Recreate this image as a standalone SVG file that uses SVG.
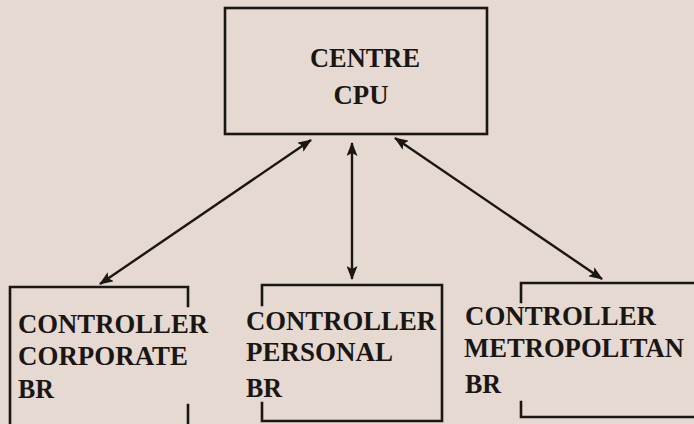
<svg xmlns="http://www.w3.org/2000/svg" width="694" height="424" viewBox="0 0 694 424">
<style>
.box{fill:none;stroke:#1a1614;stroke-width:2.6;stroke-linecap:square}
.lbl{font-family:"Liberation Serif","Times New Roman",serif;font-weight:bold;font-size:28px;fill:#1a1614}
.conn{stroke:#1a1614;stroke-width:2.4;fill:none;marker-start:url(#ah);marker-end:url(#ah)}
</style>
<defs>
<marker id="ah" viewBox="0 0 14 11" refX="13" refY="5.5" markerWidth="14" markerHeight="11" markerUnits="userSpaceOnUse" orient="auto-start-reverse">
<path d="M0,0 L14,5.5 L0,11 L3,5.5 Z" fill="#1a1614"/>
</marker>
</defs>
<rect width="694" height="424" fill="#e5d9d1"/>
<g id="cpu">
<rect class="box" x="225" y="8" width="262" height="126"/>
<text class="lbl" x="365" y="67" text-anchor="middle" textLength="110" lengthAdjust="spacingAndGlyphs">CENTRE</text>
<text class="lbl" x="361" y="104" text-anchor="middle" textLength="55" lengthAdjust="spacingAndGlyphs">CPU</text>
</g>
<g id="corporate">
<path class="box" d="M10,424 V287 H188 V306 M188,405 V424"/>
<text class="lbl" x="18" y="333" textLength="190" lengthAdjust="spacingAndGlyphs">CONTROLLER</text>
<text class="lbl" x="18" y="365" textLength="170" lengthAdjust="spacingAndGlyphs">CORPORATE</text>
<text class="lbl" x="18" y="398" textLength="36" lengthAdjust="spacingAndGlyphs">BR</text>
</g>
<g id="personal">
<path class="box" d="M262,305 V285 H442 V421 H262 V403"/>
<text class="lbl" x="246" y="330" textLength="190" lengthAdjust="spacingAndGlyphs">CONTROLLER</text>
<text class="lbl" x="246" y="361" textLength="147" lengthAdjust="spacingAndGlyphs">PERSONAL</text>
<text class="lbl" x="246" y="397" textLength="36" lengthAdjust="spacingAndGlyphs">BR</text>
</g>
<g id="metropolitan">
<path class="box" d="M521,302 V283 H696 M696,417 H521 V402"/>
<text class="lbl" x="465" y="325" textLength="191" lengthAdjust="spacingAndGlyphs">CONTROLLER</text>
<text class="lbl" x="464" y="357" textLength="220" lengthAdjust="spacingAndGlyphs">METROPOLITAN</text>
<text class="lbl" x="465" y="393" textLength="36" lengthAdjust="spacingAndGlyphs">BR</text>
</g>
<g id="connectors">
<line class="conn" x1="311" y1="140" x2="100" y2="284"/>
<line class="conn" x1="352" y1="143" x2="352" y2="279"/>
<line class="conn" x1="395" y1="138" x2="602" y2="279"/>
</g>
</svg>
